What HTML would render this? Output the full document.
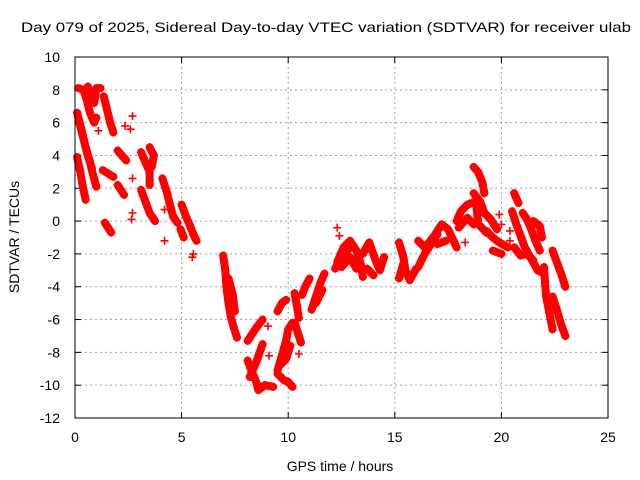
<!DOCTYPE html>
<html><head><meta charset="utf-8"><style>body{margin:0;background:#fff}svg{display:block;font-family:"Liberation Sans",sans-serif}</style></head>
<body>
<svg id="chart" width="640" height="480" viewBox="0 0 640 480" xmlns="http://www.w3.org/2000/svg">
<text x="326" y="32" text-anchor="middle" font-size="14" textLength="610" lengthAdjust="spacingAndGlyphs">Day 079 of 2025, Sidereal Day-to-day VTEC variation (SDTVAR) for receiver ulab</text>
<g id="grid"></g>
<g id="ticks"></g>
<g id="marks"></g>
<rect x="75" y="57" width="533" height="361" fill="none" stroke="#000" stroke-width="1"/>
<text x="340" y="471" text-anchor="middle" font-size="14">GPS time / hours</text>
<text x="0" y="0" transform="translate(19,237) rotate(-90)" text-anchor="middle" font-size="14">SDTVAR / TECUs</text>
</svg>
<script>
const xTicks=[0,5,10,15,20,25];
const yTicks=[10,8,6,4,2,0,-2,-4,-6,-8,-10,-12];
const tracks=[
[[0.1,6.6],[0.3,5.6],[0.5,4.5],[0.7,3.6],[0.85,2.8],[1.0,2.1]],
[[0.2,6.0],[0.4,5.0],[0.6,4.0],[0.8,3.2]],
[[0.1,3.9],[0.25,3.0],[0.35,2.2],[0.5,1.3]],
[[0.15,8.1],[0.4,8.0],[0.55,7.4],[0.7,6.6],[0.9,6.0],[1.0,6.3]],
[[0.6,8.2],[0.75,7.6],[0.9,7.2],[1.0,8.1],[1.2,8.1]],
[[1.35,7.6],[1.5,6.8],[1.65,6.0],[1.8,5.4]],
[[2.0,4.3],[2.2,4.0],[2.4,3.7]],
[[1.3,3.1],[1.55,2.9],[1.8,2.7]],
[[2.0,2.2],[2.15,1.9],[2.3,1.6]],
[[1.4,-0.1],[1.55,-0.4],[1.7,-0.7]],
[[3.1,4.2],[3.3,3.6],[3.5,3.0],[3.5,2.2]],
[[3.5,4.5],[3.7,4.0],[3.6,3.3]],
[[3.1,1.9],[3.3,1.2],[3.5,0.5],[3.75,0.0]],
[[4.1,2.6],[4.3,1.8],[4.45,1.0],[4.6,0.3],[4.8,-0.1]],
[[5.0,1.0],[5.2,0.3],[5.4,-0.3],[5.55,-0.8],[5.7,-1.2]],
[[4.95,-0.5],[5.1,-1.0]],
[[6.95,-2.1],[7.05,-3.0],[7.1,-4.0],[7.2,-5.0],[7.3,-5.8],[7.45,-6.5],[7.6,-7.1]],
[[7.2,-3.5],[7.4,-4.5],[7.5,-5.5]],
[[8.1,-7.3],[8.3,-6.9],[8.5,-6.5],[8.8,-6.0]],
[[8.1,-8.5],[8.3,-9.2],[8.5,-9.8],[8.6,-10.3],[8.9,-10.0],[9.3,-10.1]],
[[8.2,-9.5],[8.5,-8.6],[8.8,-7.5]],
[[9.5,-9.1],[9.7,-8.2],[9.9,-7.3],[10.0,-6.6],[10.2,-6.2]],
[[9.6,-8.8],[9.9,-8.4],[10.1,-7.6]],
[[9.5,-9.3],[9.8,-9.7],[10.0,-9.8],[10.2,-10.1]],
[[9.5,-5.5],[9.7,-5.0],[9.9,-4.8]],
[[10.3,-4.4],[10.4,-5.1],[10.5,-5.9]],
[[10.3,-6.2],[10.45,-6.8],[10.6,-7.4]],
[[10.65,-4.5],[10.8,-4.0],[11.0,-3.5]],
[[11.1,-5.4],[11.3,-4.6],[11.5,-3.8],[11.7,-3.2]],
[[11.3,-5.0],[11.6,-4.2]],
[[12.2,-2.9],[12.5,-2.2],[12.9,-1.6]],
[[12.3,-2.5],[12.6,-1.6],[12.9,-1.2],[13.2,-1.8],[13.4,-2.6],[13.5,-3.4]],
[[12.5,-2.8],[12.9,-2.2],[13.2,-2.9]],
[[13.5,-2.0],[13.8,-1.3],[14.1,-2.4],[14.3,-3.0],[14.5,-2.2]],
[[13.7,-2.9],[14.0,-3.3]],
[[15.2,-1.3],[15.4,-2.2],[15.5,-3.0],[15.7,-3.6],[16.0,-2.9]],
[[15.2,-3.5],[15.4,-2.6]],
[[16.1,-2.8],[16.4,-2.0],[16.7,-1.4],[17.0,-0.8]],
[[16.1,-1.2],[16.4,-1.6]],
[[16.5,-1.5],[16.9,-0.8],[17.2,-0.2],[17.5,-0.5],[17.9,-1.6]],
[[17.0,-1.4],[17.4,-1.2]],
[[17.9,0.0],[18.1,0.6],[18.4,1.0],[18.8,1.2],[18.9,0.0]],
[[18.0,-0.4],[18.4,0.2],[18.7,-0.2]],
[[18.7,3.3],[18.9,3.0],[19.1,2.4],[19.2,1.7]],
[[18.7,1.7],[19.0,1.2],[19.2,0.5],[19.5,0.1],[19.8,-0.5]],
[[19.0,-0.3],[19.3,-0.7]],
[[19.3,-0.6],[19.6,-1.0],[19.9,-1.3],[20.3,-1.6]],
[[19.6,-1.8],[20.0,-2.0]],
[[20.6,1.7],[20.7,1.4],[20.8,1.1]],
[[20.5,0.6],[20.7,-0.2],[20.9,-0.9],[21.1,-1.6],[21.4,-2.3],[21.7,-3.0],[22.0,-3.2]],
[[21.0,0.5],[21.2,0.1],[21.4,-0.5],[21.6,-1.2],[21.8,-1.8]],
[[20.6,-1.6],[20.9,-2.1],[21.2,-2.0],[21.5,-2.4]],
[[21.5,0.0],[21.8,-0.3],[21.9,-1.0]],
[[22.0,-2.8],[22.05,-3.8],[22.1,-4.6],[22.25,-5.6],[22.4,-6.6]],
[[22.4,-1.8],[22.6,-2.5],[22.8,-3.2],[23.0,-4.0]],
[[22.4,-4.6],[22.6,-5.4],[22.8,-6.3],[23.0,-7.0]]
];
const singles=[[1.1,5.5],[2.7,6.4],[2.35,5.8],[2.6,5.6],[2.7,2.6],[2.7,0.5],[2.65,0.1],[4.2,-1.2],[4.2,0.7],[5.5,-2.2],[5.55,-2.0],[9.05,-6.4],[9.1,-8.2],[10.5,-8.1],[12.3,-0.4],[12.4,-0.9],[18.3,-1.3],[19.9,0.4],[20.0,-0.2],[20.4,-0.6],[20.4,-1.2]];

const NS='http://www.w3.org/2000/svg';
const X0=75,X1=608,Y0=418,Y1=57;
function sx(t){return X0+(t-0)/(25-0)*(X1-X0);}
function sy(v){return Y0-(v-(-12))/(10-(-12))*(Y0-Y1);}
function mk(tag,attrs,parent){const e=document.createElementNS(NS,tag);for(const k in attrs)e.setAttribute(k,attrs[k]);parent.appendChild(e);return e;}
const grid=document.getElementById('grid'),ticks=document.getElementById('ticks'),marks=document.getElementById('marks');
xTicks.forEach(t=>{
  const x=sx(t);
  if(t>0&&t<25){const g=mk('line',{x1:x,x2:x,y1:Y1,y2:Y0,stroke:'#a0a0a0','stroke-dasharray':'2,3'},grid);
  
  }
  mk('line',{x1:x,x2:x,y1:Y0,y2:Y0-6,stroke:'#000'},ticks);
  mk('line',{x1:x,x2:x,y1:Y1,y2:Y1+6,stroke:'#000'},ticks);
  const l=mk('text',{x:x,y:Y0+24,'text-anchor':'middle','font-size':'14'},ticks);
  l.textContent=t;
  
  
});
yTicks.forEach(v=>{
  const y=sy(v);
  if(v<10&&v>-12){const g=mk('line',{x1:X0,x2:X1,y1:y,y2:y,stroke:'#a0a0a0','stroke-dasharray':'2,3'},grid);
  
  }
  mk('line',{x1:X0,x2:X0+6,y1:y,y2:y,stroke:'#000'},ticks);
  mk('line',{x1:X1,x2:X1-6,y1:y,y2:y,stroke:'#000'},ticks);
  const l=mk('text',{x:X0-15,y:y+5,'text-anchor':'end','font-size':'14'},ticks);
  l.textContent=v;
  
  
});
function plus(t,v){
  const x=sx(t),y=sy(v);
  const p=mk('path',{d:`M${x-4},${y}H${x+4}M${x},${y-4}V${y+4}`,stroke:'#ff0000','stroke-width':'1.6',fill:'none'},marks);
  
  
}
tracks.forEach(tr=>{
  const pl=mk('polyline',{points:tr.map(p=>sx(p[0])+','+sy(p[1])).join(' '),stroke:'#ff0000','stroke-width':'8','stroke-linecap':'round','stroke-linejoin':'round',fill:'none'},marks);
  
  
  tr.forEach(p=>plus(p[0],p[1]));
});
singles.forEach(p=>plus(p[0],p[1]));
</script>
</body></html>
